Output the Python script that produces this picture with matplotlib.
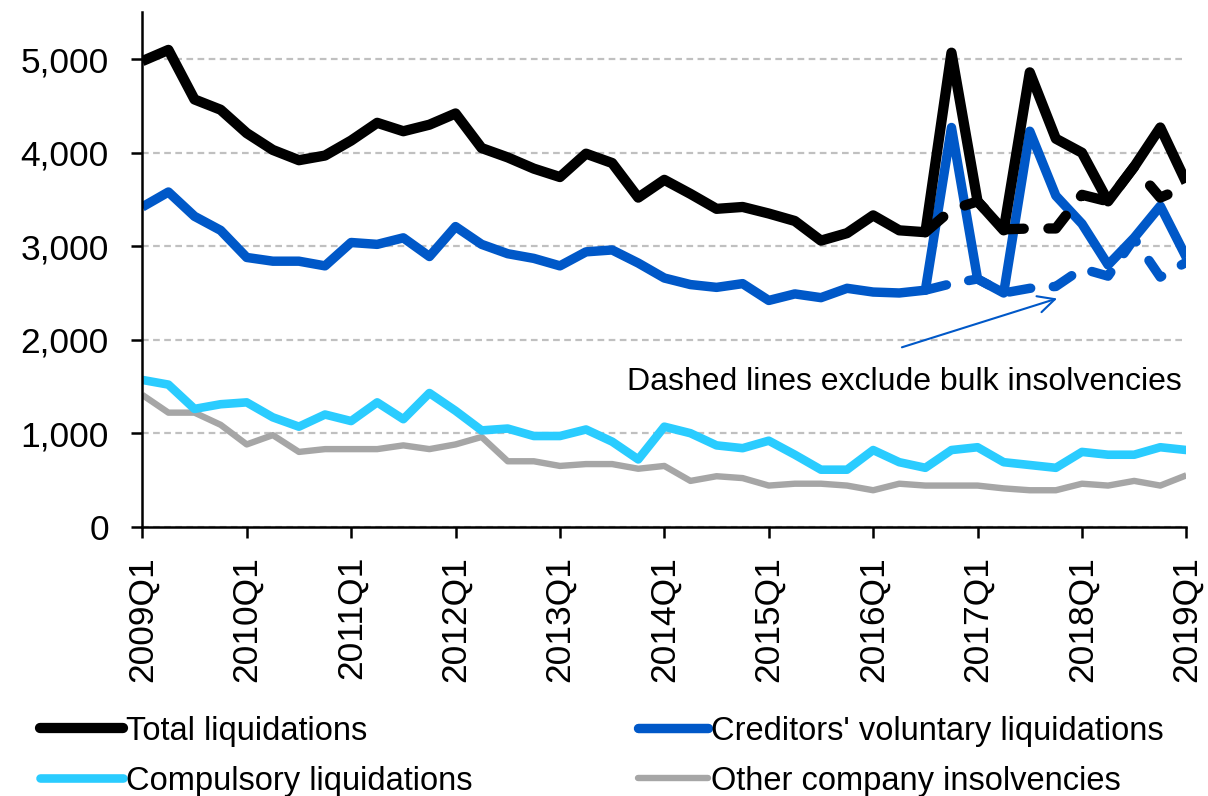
import numpy as np
import matplotlib
matplotlib.use("Agg")
import matplotlib.pyplot as plt
from matplotlib.ticker import FuncFormatter
from matplotlib.lines import Line2D

plt.rcParams['font.family'] = ['Liberation Sans', 'DejaVu Sans']

# --- Data (quarterly, 2009Q1 .. 2019Q1) ---
years = list(range(2009, 2020))
tick_labels = [f"{y}Q1" for y in years]

total = [4980, 5100, 4570, 4460, 4210, 4030, 3920, 3970, 4130, 4320,
         4230, 4300, 4420, 4050, 3950, 3830, 3740, 3990, 3890, 3520,
         3710, 3560, 3400, 3420, 3350, 3270, 3060, 3140, 3330, 3170,
         3150, 5070, 3480, 3170, 4860, 4150, 4000, 3480, 3850, 4270,
         3680]
creditors = [3420, 3580, 3320, 3170, 2880, 2840, 2840, 2790, 3040, 3020,
             3090, 2890, 3210, 3020, 2920, 2870, 2790, 2940, 2960, 2820,
             2660, 2590, 2560, 2600, 2420, 2490, 2450, 2550, 2510, 2500,
             2530, 4270, 2650, 2500, 4230, 3540, 3240, 2800, 3090, 3430,
             2880]
compulsory = [1570, 1520, 1260, 1310, 1330, 1170, 1070, 1200, 1130, 1330,
              1150, 1430, 1240, 1030, 1050, 970, 970, 1040, 910, 720,
              1070, 1000, 870, 840, 920, 770, 610, 610, 820, 690,
              630, 820, 850, 690, 660, 630, 800, 770, 770, 850,
              820]
other = [1410, 1220, 1220, 1090, 880, 980, 800, 830, 830, 830,
         870, 830, 880, 960, 700, 700, 650, 670, 670, 620,
         650, 490, 540, 520, 440, 460, 460, 440, 390, 460,
         440, 440, 440, 410, 390, 390, 460, 440, 490, 440,
         550]

# series excluding bulk insolvencies, from 2016Q3 onwards
ex_start = 30
total_ex = [3150, 3390, 3480, 3180, 3190, 3190, 3550, 3480, 3850, 3520, 3640]
creditors_ex = [2530, 2600, 2650, 2500, 2550, 2570, 2760, 2680, 3080, 2670, 2830]

BLACK = '#000000'
BLUE = '#0058C8'
CYAN = '#2ACCFF'
GREY = '#A6A6A6'

x = np.arange(len(total))
x_ex = np.arange(ex_start, ex_start + len(total_ex))

fig = plt.figure(figsize=(12.08, 7.96), dpi=100)
ax = fig.add_axes([0.1178, 0.3383, 0.8643, 0.646])

ax.yaxis.grid(True, color='#C0C0C0', linestyle=(0, (3, 2)), linewidth=1.6)
ax.set_axisbelow(True)

line_kw = dict(solid_joinstyle='round', solid_capstyle='butt')
ax.plot(x, other, color=GREY, lw=4.6, **line_kw)
ax.plot(x, compulsory, color=CYAN, lw=6.2, **line_kw)
ax.plot(x, creditors, color=BLUE, lw=6.8, **line_kw)
ax.plot(x, total, color=BLACK, lw=7.4, **line_kw)
ax.plot(x_ex, creditors_ex, color=BLUE, lw=6.8, linestyle=(0, (2.3, 2.4)),
        dash_capstyle='round', dash_joinstyle='round')
ax.plot(x_ex, total_ex, color=BLACK, lw=7.4, linestyle=(0, (2.3, 2.4)),
        dash_capstyle='round', dash_joinstyle='round')

ax.set_xlim(0, len(total) - 1)
ax.set_ylim(0, 5500)
ax.set_yticks(range(0, 5001, 1000))
ax.yaxis.set_major_formatter(FuncFormatter(lambda v, p: f"{int(v):,}"))
ax.set_xticks(np.arange(0, len(total), 4))
ax.set_xticklabels(tick_labels, rotation=90)

for s in ['top', 'right']:
    ax.spines[s].set_visible(False)
for s in ['left', 'bottom']:
    ax.spines[s].set_linewidth(1.8)
ax.tick_params(axis='both', direction='out', length=8, width=1.8,
               labelsize=25.5, colors='black')
ax.tick_params(axis='y', pad=16)
ax.tick_params(axis='x', pad=13)

# annotation
ax.annotate('', xy=(35.15, 2450), xytext=(29.0, 1910),
            arrowprops=dict(arrowstyle='->', color=BLUE, lw=1.5,
                            mutation_scale=30))
ax.text(29.2, 1545, 'Dashed lines exclude bulk insolvencies', fontsize=23,
        ha='center', va='center')

# legend (two columns)
h_total = Line2D([], [], color=BLACK, lw=7.4, solid_capstyle='round')
h_cred = Line2D([], [], color=BLUE, lw=6.8, solid_capstyle='round')
h_comp = Line2D([], [], color=CYAN, lw=6.2, solid_capstyle='round')
h_other = Line2D([], [], color=GREY, lw=4.6, solid_capstyle='round')

leg_kw = dict(frameon=False, fontsize=23.5, handletextpad=0.1,
              labelspacing=0.58, borderpad=0, borderaxespad=0,
              loc='upper left')
leg1 = fig.legend([h_total, h_comp],
                  ['Total liquidations', 'Compulsory liquidations'],
                  bbox_to_anchor=(0.033, 0.101), handlelength=2.55, **leg_kw)
leg2 = fig.legend([h_cred, h_other],
                  ["Creditors' voluntary liquidations", 'Other company insolvencies'],
                  bbox_to_anchor=(0.528, 0.101), handlelength=2.15, **leg_kw)

fig.savefig('out.png', dpi=100)
